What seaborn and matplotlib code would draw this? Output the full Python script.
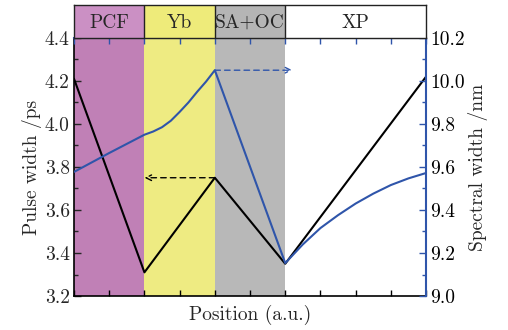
import matplotlib
matplotlib.use("Agg")
import matplotlib.pyplot as plt
import seaborn as sns
import pandas as pd
from matplotlib.ticker import MultipleLocator, NullFormatter, FormatStrFormatter

# ---- data ----
band_names = ["PCF", "Yb", "SA+OC", "XP"]
band_edges = [0, 2, 4, 6, 10]
band_colors = ["#C080B6", "#EEEB82", "#B8B8B8", "#FFFFFF"]
strip_colors = ["#CB90C4", "#EEEB7A", "#B5B5B5", "#FFFFFF"]

pulse_pos = [0, 2, 4, 6, 10]
pulse_width = [4.21, 3.31, 3.75, 3.35, 4.22]

spec_pos = [0, 1, 2, 2.25, 2.5, 2.75, 3, 3.25, 3.5, 3.75, 4,
            6, 6.5, 7, 7.5, 8, 8.5, 9, 9.5, 10]
spec_width = [9.577, 9.665, 9.75, 9.765, 9.785, 9.815, 9.856, 9.90, 9.95, 9.997, 10.05,
              9.153, 9.24, 9.316, 9.376, 9.43, 9.476, 9.516, 9.547, 9.572]

sns.set_style("ticks")
plt.rcParams["font.family"] = ["cmr10", "DejaVu Serif"]
plt.rcParams["axes.formatter.use_mathtext"] = True
plt.rcParams["mathtext.fontset"] = "cm"

blue = "#2F55AA"
fs = 14

fig = plt.figure(figsize=(5.08, 3.30), dpi=100)
ax = fig.add_axes([0.1457, 0.103, 0.693, 0.782])
ax2 = ax.twinx()
strip = fig.add_axes([0.1457, 0.885, 0.693, 0.100])

# bands
for i in range(4):
    ax.axvspan(band_edges[i], band_edges[i + 1], color=band_colors[i], lw=0, zorder=0)
    strip.axvspan(band_edges[i], band_edges[i + 1], color=strip_colors[i], lw=0)
    strip.text((band_edges[i] + band_edges[i + 1]) / 2, 0.45, band_names[i],
               ha="center", va="center", fontsize=fs)
for e in band_edges[1:-1]:
    strip.axvline(e, color="#222222", lw=1)
strip.set_xlim(0, 10)
strip.set_ylim(0, 1)
strip.set_xticks([])
strip.set_yticks([])
for s in strip.spines.values():
    s.set_color("#222222")
    s.set_linewidth(1)

df_p = pd.DataFrame({"pos": pulse_pos, "pw": pulse_width})
df_s = pd.DataFrame({"pos": spec_pos, "sw": spec_width})
sns.lineplot(data=df_p, x="pos", y="pw", ax=ax, color="black", lw=1.5, zorder=3)
sns.lineplot(data=df_s, x="pos", y="sw", ax=ax2, color=blue, lw=1.5, zorder=3)

ax.set_xlim(0, 10)
ax.set_ylim(3.2, 4.4)
ax2.set_ylim(9.0, 10.2)

# arrows
ax.annotate("", xy=(2.0, pulse_width[2]), xytext=(4, pulse_width[2]),
            arrowprops=dict(arrowstyle="->", color="black", lw=1.0, linestyle=(0, (4, 3)),
                            shrinkA=0, shrinkB=0))
ax2.annotate("", xy=(6.2, spec_width[10]), xytext=(4, spec_width[10]),
             arrowprops=dict(arrowstyle="->", color=blue, lw=1.0, linestyle=(0, (4, 3)),
                             shrinkA=0, shrinkB=0))

ax.set_xlabel("Position (a.u.)", fontsize=fs, labelpad=3)
ax.set_ylabel("Pulse width /ps", fontsize=fs, labelpad=2)
ax2.set_ylabel("Spectral width /nm", fontsize=fs, labelpad=2)

ax.xaxis.set_major_locator(MultipleLocator(1))
ax.xaxis.set_major_formatter(NullFormatter())
ax.yaxis.set_major_locator(MultipleLocator(0.2))
ax.yaxis.set_minor_locator(MultipleLocator(0.1))
ax2.yaxis.set_major_locator(MultipleLocator(0.2))
ax2.yaxis.set_minor_locator(MultipleLocator(0.1))
ax.yaxis.set_major_formatter(FormatStrFormatter("%.1f"))
ax2.yaxis.set_major_formatter(FormatStrFormatter("%.1f"))

ax.tick_params(axis="x", direction="in", length=4, width=1, colors="black", bottom=True, top=False)
ax.tick_params(axis="y", which="major", direction="in", length=5, width=1, labelsize=fs, pad=3)
ax.tick_params(axis="y", which="minor", direction="in", length=3, width=1)
ax2.tick_params(axis="y", which="major", direction="in", length=5, width=1, colors=blue,
                labelcolor="black", labelsize=fs, pad=3)
ax2.tick_params(axis="y", which="minor", direction="in", length=3, width=1, colors=blue)

# top spine/ticks blue
sec = ax2.secondary_xaxis("top")
sec.xaxis.set_major_locator(MultipleLocator(1))
sec.xaxis.set_major_formatter(NullFormatter())
sec.tick_params(direction="in", length=4, width=1, colors=blue)
sec.spines["top"].set_color(blue)
sec.spines["top"].set_linewidth(1.5)

for a in (ax, ax2):
    a.spines["top"].set_visible(False)
    a.spines["left"].set_color("black")
    a.spines["bottom"].set_color("black")
    a.spines["left"].set_linewidth(1.2)
    a.spines["bottom"].set_linewidth(1.2)
ax2.spines["right"].set_color(blue)
ax2.spines["right"].set_linewidth(1.5)
ax.spines["right"].set_visible(False)
ax2.spines["left"].set_visible(False)
ax2.spines["bottom"].set_visible(False)

fig.savefig("out.png", dpi=100)
